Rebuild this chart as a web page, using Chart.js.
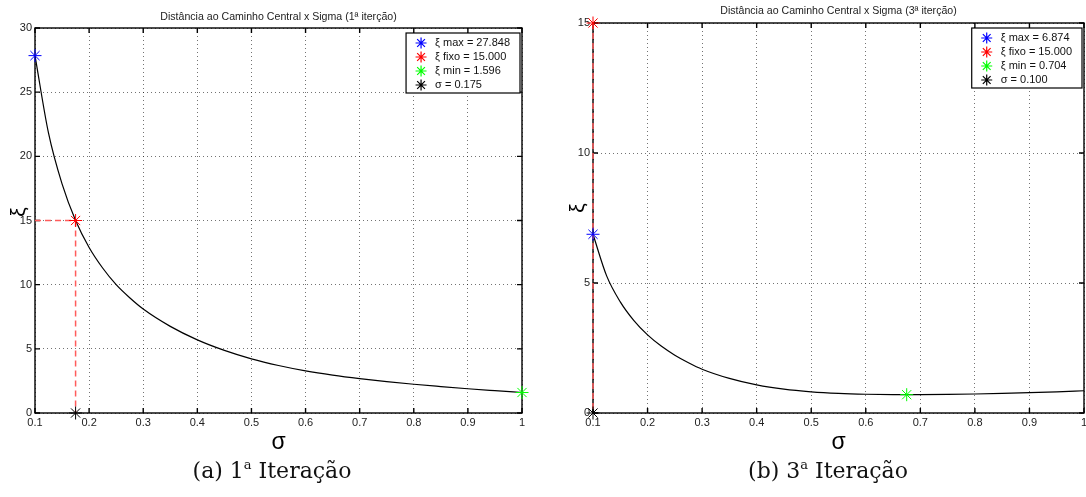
<!DOCTYPE html>
<html>
<head>
<meta charset="utf-8">
<script src="https://cdn.jsdelivr.net/npm/chart.js@4.4.0/dist/chart.umd.min.js"></script>
<style>
  html, body { margin: 0; padding: 0; background: #fff; width: 1086px; height: 497px; overflow: hidden; }
  .wrap { position: absolute; top: 0; height: 460px; }
  #wrap-a { left: 0; width: 540px; }
  #wrap-b { left: 560px; width: 547px; }
  .caption {
    position: absolute; top: 458px; width: 540px; text-align: center;
    font-family: "DejaVu Serif", "Liberation Serif", serif; font-size: 22px; color: #111;
  }
  .caption sup { font-size: 13px; vertical-align: 9px; line-height: 0; }
</style>
</head>
<body>
<div class="wrap" id="wrap-a"><canvas id="chart-a" width="540" height="460"></canvas></div>
<div class="wrap" id="wrap-b"><canvas id="chart-b" width="547" height="460"></canvas></div>
<div class="caption" style="left:2px">(a) 1<sup>a</sup> Iteração</div>
<div class="caption" style="left:558px">(b) 3<sup>a</sup> Iteração</div>
<script>
// tick values
const xTicks = [0.1, 0.2, 0.3, 0.4, 0.5, 0.6, 0.7, 0.8, 0.9, 1];
const yTicksA = [0, 5, 10, 15, 20, 25, 30];
const yTicksB = [0, 5, 10, 15];

// 1st iteration curve
const sigmaA = [0.1, 0.125, 0.15, 0.175, 0.2, 0.225, 0.25, 0.275, 0.3, 0.35, 0.4, 0.45, 0.5, 0.55, 0.6, 0.65, 0.7, 0.75, 0.8, 0.85, 0.9, 0.95, 1.0];
const xiA = [27.848, 21.8, 17.85, 15.0, 12.9, 11.3, 10.0, 8.98, 8.1, 6.75, 5.7, 4.88, 4.22, 3.7, 3.28, 2.95, 2.68, 2.45, 2.24, 2.06, 1.89, 1.74, 1.596];

// 3rd iteration curve
const sigmaB = [0.1, 0.125, 0.15, 0.175, 0.2, 0.225, 0.25, 0.275, 0.3, 0.35, 0.4, 0.45, 0.5, 0.55, 0.6, 0.65, 0.675, 0.7, 0.75, 0.8, 0.85, 0.9, 0.95, 1.0];
const xiB = [6.874, 5.274, 4.274, 3.554, 3.004, 2.574, 2.224, 1.934, 1.684, 1.33, 1.08, 0.915, 0.815, 0.755, 0.722, 0.707, 0.704, 0.705, 0.713, 0.73, 0.752, 0.78, 0.815, 0.855];

// marked points: max, fixo, min, sigma
const marksA = [[0.1, 27.848], [0.175, 15], [1, 1.596], [0.175, 0]];
const marksB = [[0.1, 6.874], [0.1, 15], [0.675, 0.704], [0.1, 0]];
const labelsA = ["ξ max = 27.848", "ξ fixo = 15.000", "ξ min = 1.596", "σ = 0.175"];
const labelsB = ["ξ max = 6.874", "ξ fixo = 15.000", "ξ min = 0.704", "σ = 0.100"];
const markColors = ["#0000ff", "#ff0000", "#00ff00", "#000000"];

const FONT = '"Liberation Sans", Arial, sans-serif';

const framePlugin = {
  id: "frame",
  beforeDatasetsDraw(chart) {
    const { ctx, chartArea: a, scales: { x, y } } = chart;
    ctx.save();
    ctx.strokeStyle = "#000";
    ctx.lineWidth = 1.4;
    ctx.strokeRect(a.left, a.top, a.right - a.left, a.bottom - a.top);
    ctx.beginPath();
    x.ticks.forEach((t) => {
      const px = x.getPixelForValue(t.value);
      ctx.moveTo(px, a.bottom); ctx.lineTo(px, a.bottom - 5);
      ctx.moveTo(px, a.top); ctx.lineTo(px, a.top + 5);
    });
    y.ticks.forEach((t) => {
      const py = y.getPixelForValue(t.value);
      ctx.moveTo(a.left, py); ctx.lineTo(a.left + 5, py);
      ctx.moveTo(a.right, py); ctx.lineTo(a.right - 5, py);
    });
    ctx.stroke();
    ctx.restore();
  },
  afterDraw(chart, args, opts) {
    const { ctx, chartArea: a } = chart;
    ctx.save();
    // title
    ctx.font = `10.6px ${FONT}`;
    ctx.fillStyle = "#222";
    ctx.textAlign = "center";
    ctx.textBaseline = "middle";
    ctx.fillText(opts.title, (a.left + a.right) / 2, opts.titleY);

    // y axis label, rotated
    ctx.save();
    ctx.translate(opts.yLabelX, opts.yLabelY);
    ctx.rotate(-Math.PI / 2);
    ctx.font = `21px ${FONT}`;
    ctx.fillStyle = "#000";
    ctx.fillText("ξ", 0, 0);
    ctx.restore();

    // legend box
    ctx.font = `11px ${FONT}`;
    const marks = chart.data.datasets.filter((d) => d.isMark);
    const textW = Math.max(...marks.map((d) => ctx.measureText(d.label).width));
    const w = 29 + textW + 10;
    const h = 10 + (marks.length - 1) * 14 + 8;
    const right = a.right - 2;
    const left = right - w;
    const top = a.top + 5;
    ctx.fillStyle = "#fff";
    ctx.fillRect(left, top, w, h);
    ctx.strokeStyle = "#000";
    ctx.lineWidth = 1.2;
    ctx.strokeRect(left, top, w, h);
    ctx.textAlign = "left";
    marks.forEach((d, i) => {
      const cy = top + 10 + i * 14;
      ctx.strokeStyle = d.borderColor;
      Chart.helpers.drawPoint(ctx, { pointStyle: "star", radius: 5.5, borderWidth: 1, rotation: 0 }, left + 15, cy);
      ctx.fillStyle = "#111";
      ctx.fillText(d.label, left + 29, cy);
    });
    ctx.restore();
  },
};

function buildChart(id, cfg) {
  const curve = {
    data: cfg.sigma.map((s, i) => ({ x: s, y: cfg.xi[i] })),
    borderColor: "#000",
    borderWidth: 1.2,
    pointRadius: 0,
    cubicInterpolationMode: "monotone",
    order: 3,
  };
  const fixo = cfg.marks[1];
  const sig = cfg.marks[3];
  const guides = [
    [{ x: cfg.xMin, y: fixo[1] }, { x: fixo[0], y: fixo[1] }],
    [{ x: fixo[0], y: fixo[1] }, { x: sig[0], y: sig[1] }],
  ].map((pts) => ({
    data: pts,
    borderColor: "#ff5c5c",
    borderWidth: 1.5,
    borderDash: [6, 4],
    pointRadius: 0,
    clip: false,
    order: 2,
  }));
  const marks = cfg.marks.map((m, i) => ({
    label: cfg.labels[i],
    isMark: true,
    data: [{ x: m[0], y: m[1] }],
    showLine: false,
    pointStyle: "star",
    pointRadius: 6.5,
    pointBorderWidth: 1,
    borderColor: markColors[i],
    backgroundColor: markColors[i],
    clip: false,
    order: 1,
  }));

  return new Chart(document.getElementById(id), {
    type: "line",
    data: { datasets: [curve, ...guides, ...marks] },
    plugins: [framePlugin],
    options: {
      responsive: false,
      animation: false,
      layout: { padding: { left: 0, right: cfg.padRight, top: cfg.padTop, bottom: 0 } },
      plugins: {
        legend: { display: false },
        tooltip: { enabled: false },
        frame: { title: cfg.title, titleY: cfg.titleY, yLabelX: cfg.yLabelX, yLabelY: cfg.yLabelY },
      },
      scales: {
        x: {
          type: "linear",
          min: cfg.xMin,
          max: 1,
          afterBuildTicks: (s) => { s.ticks = xTicks.map((v) => ({ value: v })); },
          afterFit: (s) => { s.height = 47; },
          ticks: {
            autoSkip: false, maxRotation: 0, padding: 3, color: "#222",
            font: { family: FONT, size: 11 },
            callback: (v) => String(+v.toFixed(2)),
          },
          grid: { color: "rgba(0,0,0,0.55)", lineWidth: 1, drawTicks: false },
          border: { display: false, dash: [1, 3] },
          title: {
            display: true, text: "σ", color: "#000",
            font: { family: FONT, size: 23 }, padding: { top: 0, bottom: 4 },
          },
        },
        y: {
          type: "linear",
          min: 0,
          max: cfg.yMax,
          afterBuildTicks: (s) => { s.ticks = cfg.yTicks.map((v) => ({ value: v })); },
          afterFit: (s) => { s.width = cfg.yWidth; },
          ticks: {
            padding: 3, color: "#222",
            font: { family: FONT, size: 11 },
          },
          grid: { color: "rgba(0,0,0,0.55)", lineWidth: 1, drawTicks: false },
          border: { display: false, dash: [1, 3] },
        },
      },
    },
  });
}

buildChart("chart-a", {
  sigma: sigmaA, xi: xiA, marks: marksA, labels: labelsA,
  xMin: 0.1, yMax: 30, yTicks: yTicksA,
  title: "Distância ao Caminho Central x Sigma (1ª iterção)", titleY: 17,
  padTop: 28, padRight: 18, yWidth: 35, yLabelX: 19, yLabelY: 212,
});

buildChart("chart-b", {
  sigma: sigmaB, xi: xiB, marks: marksB, labels: labelsB,
  xMin: 0.1, yMax: 15, yTicks: yTicksB,
  title: "Distância ao Caminho Central x Sigma (3ª iterção)", titleY: 11,
  padTop: 23, padRight: 23, yWidth: 33, yLabelX: 18, yLabelY: 208,
});
</script>
</body>
</html>
